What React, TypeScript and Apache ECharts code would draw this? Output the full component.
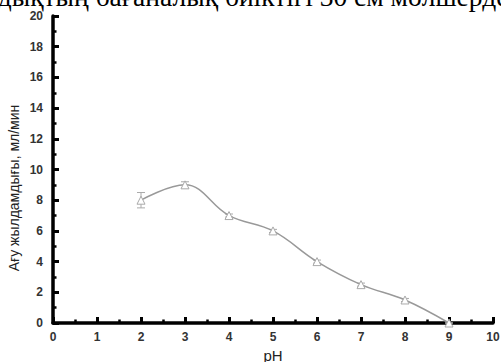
import React, { useEffect, useRef } from "react";
import * as echarts from "echarts";

const phValues = [2, 3, 4, 5, 6, 7, 8, 9];
const flowRates = [8.0, 9.0, 7.0, 6.0, 4.0, 2.5, 1.5, 0];
const errors = [0.5, 0.2, 0.1, 0.1, 0.1, 0.1, 0.1, 0];
const titleText = "ндықтың бағаналық биіктігі 30 см мөлшерде";
const yAxisTitle = "Ағу жылдамдығы, мл/мин";
const xAxisTitle = "pH";

export default function App() {
  const ref = useRef<HTMLDivElement>(null);
  useEffect(() => {
    if (!ref.current) return;
    const chart = echarts.init(ref.current, null, { renderer: "svg" });
    const points = phValues.map((x, i) => [x, flowRates[i]]);
    const errData = phValues.map((x, i) => [x, flowRates[i] - errors[i], flowRates[i] + errors[i]]);
    chart.setOption({
      animation: false,
      backgroundColor: "#ffffff",
      grid: { left: 53, right: 8, top: 16, bottom: 39, containLabel: false, outerBoundsMode: "none" },
      xAxis: {
        type: "value",
        min: 0,
        max: 10,
        interval: 1,
        axisLine: { show: true, onZero: false, lineStyle: { color: "#000", width: 3.5 } },
        axisTick: { show: true, inside: true, length: 6, lineStyle: { color: "#000", width: 3 } },
        minorTick: { show: true, splitNumber: 2, length: 3.5, lineStyle: { color: "#000", width: 2.5 } },
        splitLine: { show: false },
        axisLabel: {
          color: "#333",
          fontFamily: "Liberation Sans, Arial",
          fontWeight: "bold",
          fontSize: 12,
          margin: 8,
        },
        name: xAxisTitle,
        nameLocation: "middle",
        nameGap: 21,
        nameTextStyle: { color: "#222", fontFamily: "Liberation Sans, Arial", fontSize: 15 },
      },
      yAxis: {
        type: "value",
        min: 0,
        max: 20,
        interval: 2,
        axisLine: { show: true, onZero: false, lineStyle: { color: "#000", width: 3.5 } },
        axisTick: { show: true, inside: true, length: 6, lineStyle: { color: "#000", width: 3 } },
        minorTick: { show: true, splitNumber: 2, length: 3.5, lineStyle: { color: "#000", width: 2.5 } },
        splitLine: { show: false },
        axisLabel: {
          color: "#333",
          fontFamily: "Liberation Sans, Arial",
          fontWeight: "bold",
          fontSize: 12,
          margin: 10,
        },
      },
      graphic: [
        {
          type: "text",
          x: -17,
          y: -18,
          style: {
            text: titleText,
            font: "27.5px 'Liberation Serif', 'DejaVu Serif', serif",
            fill: "#000",
          },
        },
        {
          type: "text",
          x: 14,
          y: 188,
          rotation: Math.PI / 2,
          style: {
            text: yAxisTitle,
            font: "14px 'Liberation Sans', Arial, sans-serif",
            fill: "#222",
            align: "center",
            verticalAlign: "middle",
          },
        },
      ],
      series: [
        {
          type: "line",
          data: points,
          smooth: 0.4,
          symbol: "triangle",
          symbolSize: 8,
          lineStyle: { color: "#999", width: 1.5 },
          itemStyle: { color: "#fff", borderColor: "#aaa", borderWidth: 1 },
          z: 3,
        },
        {
          type: "custom",
          data: errData,
          z: 2,
          renderItem: (params: any, api: any) => {
            const x = api.value(0);
            const lo = api.coord([x, api.value(1)]);
            const hi = api.coord([x, api.value(2)]);
            const w = 4;
            const style = { stroke: "#aaa", lineWidth: 1 };
            return {
              type: "group",
              children: [
                { type: "line", shape: { x1: lo[0], y1: lo[1], x2: hi[0], y2: hi[1] }, style },
                { type: "line", shape: { x1: lo[0] - w, y1: lo[1], x2: lo[0] + w, y2: lo[1] }, style },
                { type: "line", shape: { x1: hi[0] - w, y1: hi[1], x2: hi[0] + w, y2: hi[1] }, style },
              ],
            };
          },
        },
      ],
    });
    return () => chart.dispose();
  }, []);
  return <div ref={ref} style={{ width: 501, height: 362, position: "absolute", left: 0, top: 0 }} />;
}
